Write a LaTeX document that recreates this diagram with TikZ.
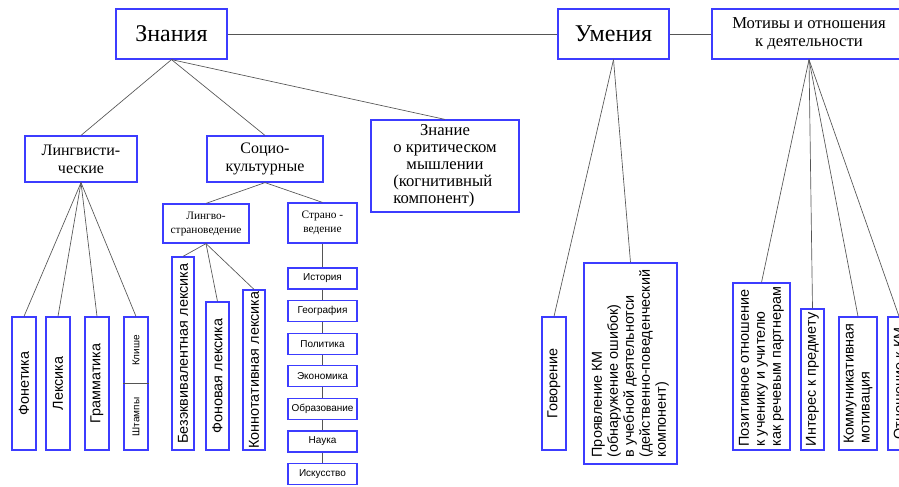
\documentclass[tikz,border=0pt]{standalone}
\usepackage{fontspec}
\setmainfont{Liberation Serif}
\setsansfont{Liberation Sans}
\usetikzlibrary{positioning}
\definecolor{boxblue}{RGB}{60,60,255}
\definecolor{linkgray}{RGB}{85,85,85}

\begin{document}
\begin{tikzpicture}[x=0.75pt,y=-0.75pt,
    box/.style 2 args={rectangle, draw=boxblue, line width=0.9pt, fill=white, inner sep=0pt,
        minimum width=#1*0.75pt, minimum height=#2*0.75pt, align=center},
    vbox/.style 2 args={box={#2}{#1}, rotate=90, align=left,
        font=\sffamily\fontsize{10.8}{12}\selectfont},
    big/.style={font=\fontsize{18}{22}\selectfont},
    mid/.style={font=\fontsize{12}{13.5}\selectfont},
    small/.style={font=\fontsize{8.5}{10.5}\selectfont},
    tiny/.style={font=\sffamily\fontsize{7.5}{8}\selectfont},
    link/.style={draw=linkgray, line width=0.5pt}]
    \clip (0,0) rectangle (899,486);

    % top row
    \node(znan) [box={111}{50}, big] at (171.5,34) {Знания};
    \node(umen) [box={111}{50}, big] at (613.5,34) {Умения};
    \node(motiv) [box={194}{50}, mid, font=\fontsize{12.5}{13.5}\selectfont] at (809,34) {Мотивы и отношения\\к деятельности};
    \draw[link] (znan) -- (umen);
    \draw[link] (umen) -- (motiv);

    % knowledge
    \node(ling) [box={112}{46}, mid] at (81,159) {Лингвисти-\\ческие};
    \node(soc) [box={116}{46}, mid] at (265,159) {Социо-\\культурные};
    \node(krit) [box={148}{92}, mid, font=\fontsize{12.5}{12.8}\selectfont] at (445,166) {\begin{tabular}{@{}c@{}}Знание\\о критическом\\мышлении\\
        \multicolumn{1}{@{}l@{}}{(когнитивный}\\\multicolumn{1}{@{}l@{}}{компонент)}\end{tabular}};
    \draw[link] (znan.south) -- (ling.north);
    \draw[link] (znan.south) -- (soc.north);
    \draw[link] (znan.south) -- (krit.north);

    \node(fon) [vbox={24}{133}] at (24,383.5) {Фонетика};
    \node(lex) [vbox={24}{133}] at (58,383.5) {Лексика};
    \node(gram) [vbox={24}{133}] at (97,383.5) {Грамматика};
    \node(stamp) [vbox={24}{133}] at (136,383.5) {};
    \draw[link] (stamp.north) -- (stamp.south);
    \node(clich) [rotate=90, tiny] at (136,350.5) {Клише};
    \node(shtamp) [rotate=90, tiny] at (136,417) {Штампы};
    \draw[link] (ling.south) -- (fon.east);
    \draw[link] (ling.south) -- (lex.east);
    \draw[link] (ling.south) -- (gram.east);
    \draw[link] (ling.south) -- (stamp.east);

    \node(lstr) [box={86}{39}, small] at (206,223.5) {Лингво-\\страноведение};
    \node(strn) [box={69}{40}, small] at (322.5,223) {Страно -\\ведение};
    \draw[link] (soc.south) -- (lstr.north);
    \draw[link] (soc.south) -- (strn.north);

    \node(bez) [vbox={22}{193}] at (183,353.5) {Безэквивалентная лексика};
    \node(fonl) [vbox={23}{148}] at (217.5,376) {Фоновая лексика};
    \node(konn) [vbox={22}{160}] at (254,370) {Коннотативная лексика};
    \draw[link] (lstr.south) -- (bez.east);
    \draw[link] (lstr.south) -- (fonl.east);
    \draw[link] (lstr.south) -- (konn.east);

    \node(hist) [box={69}{21}, tiny] at (322.5,278.5) {История};
    \node(geo) [box={69}{21}, tiny] at (322.5,311.1) {География};
    \node(pol) [box={69}{21}, tiny] at (322.5,343.7) {Политика};
    \node(econ) [box={69}{21}, tiny] at (322.5,376.3) {Экономика};
    \node(edu) [box={69}{21}, tiny] at (322.5,408.9) {Образование};
    \node(sci) [box={69}{21}, tiny] at (322.5,441.5) {Наука};
    \node(art) [box={69}{21}, tiny] at (322.5,474.1) {Искусство};
    \draw[link] (strn) -- (hist);
    \draw[link] (hist) -- (geo);
    \draw[link] (geo) -- (pol);
    \draw[link] (pol) -- (econ);
    \draw[link] (econ) -- (edu);
    \draw[link] (edu) -- (sci);
    \draw[link] (sci) -- (art);

    % skills
    \node(gov) [vbox={24}{133}] at (554,383.5) {Говорение};
    \node(proj) [vbox={93}{201}] at (630.5,363.5) {Проявление КМ\\(обнаружение ошибок)\\в учебной деятельнотси\\(действенно-поведенческий\\компонент)};
    \draw[link] (umen.south) -- (gov.east);
    \draw[link] (umen.south) -- (proj.east);

    % motives
    \node(poz) [vbox={57}{167}] at (761.5,366.5) {Позитивное отношение\\к ученику и учителю\\как речевым партнерам};
    \node(inter) [vbox={23}{141}] at (812.5,379.5) {Интерес к предмету};
    \node(komm) [vbox={38}{133}] at (858,383.5) {Коммуникативная\\мотивация};
    \node(otn) [vbox={22}{133}] at (899,383.5) {Отношение к КМ};
    \draw[link] (motiv.south) -- (poz.east);
    \draw[link] (motiv.south) -- (inter.east);
    \draw[link] (motiv.south) -- (komm.east);
    \draw[link] (motiv.south) -- (otn.east);
\end{tikzpicture}
\end{document}
